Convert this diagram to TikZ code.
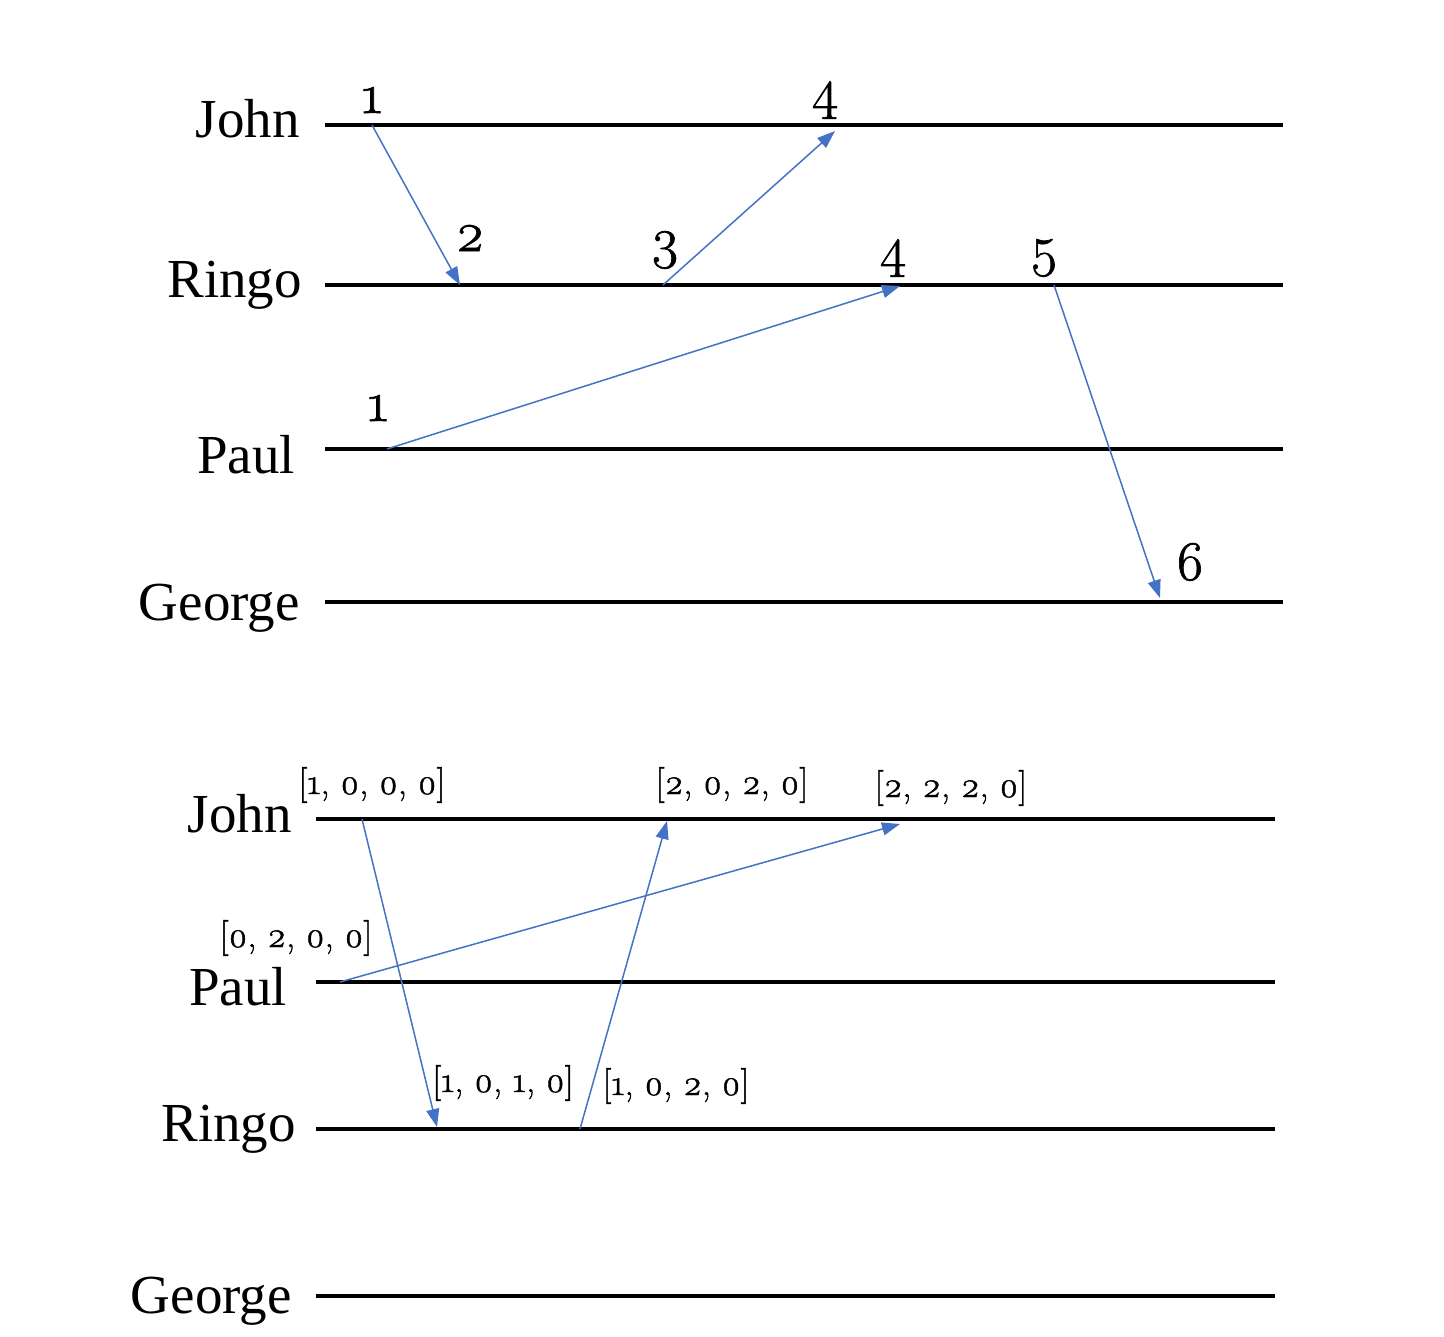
\documentclass[tikz,border=0pt]{standalone}
\usepackage{fontspec}
\setmainfont{Liberation Serif}
\newfontfamily\osfont{Latin Modern Roman}[Numbers=OldStyle,FakeBold=1.2]
\usetikzlibrary{arrows.meta}
\definecolor{msgblue}{RGB}{68,114,196}
\begin{document}
\begin{tikzpicture}[x=1pt,y=-1pt,
  lifeline/.style={line width=4.5pt,black},
  msg/.style={line width=1.5pt,msgblue,-{Triangle[length=18pt,width=13pt]}},
  pname/.style={anchor=base east,font=\fontsize{55}{60}\selectfont,inner sep=0pt},
  stamp/.style={font=\osfont\fontsize{56}{60}\selectfont,inner sep=0pt},
  vstamp/.style={font=\osfont\fontsize{36}{40}\selectfont,inner sep=0pt}]
\useasboundingbox (0,0) rectangle (1444,1337);
% ---------- top: Lamport clocks ----------
\node[pname] (tJ) at (300,138) {John};
\node[pname] (tR) at (302,298) {Ringo};
\node[pname] (tP) at (295,474) {Paul};
\node[pname] (tG) at (300,620) {George};
\coordinate (tJa) at (325,125); \coordinate (tJb) at (1283,125);
\coordinate (tRa) at (325,285); \coordinate (tRb) at (1283,285);
\coordinate (tPa) at (325,449); \coordinate (tPb) at (1283,449);
\coordinate (tGa) at (325,602); \coordinate (tGb) at (1283,602);
\draw[lifeline] (tJa) -- (tJb);
\draw[lifeline] (tRa) -- (tRb);
\draw[lifeline] (tPa) -- (tPb);
\draw[lifeline] (tGa) -- (tGb);
\coordinate (m1s) at (372,125); \coordinate (m1e) at (460,285);
\coordinate (m2s) at (663,285); \coordinate (m2e) at (835,131);
\coordinate (m3s) at (387,449); \coordinate (m3e) at (900,286);
\coordinate (m4s) at (1054,285); \coordinate (m4e) at (1160,598);
\draw[msg] (m1s) -- (m1e);
\draw[msg] (m2s) -- (m2e);
\draw[msg] (m3s) -- (m3e);
\draw[msg] (m4s) -- (m4e);
\node[stamp] (l1) at (372,100) {1};
\node[stamp] (l2) at (825,100) {4};
\node[stamp] (l3) at (470,238) {2};
\node[stamp] (l4) at (665,250) {3};
\node[stamp] (l5) at (893,258) {4};
\node[stamp] (l6) at (1044,258) {5};
\node[stamp] (l7) at (378,408) {1};
\node[stamp] (l8) at (1190,562) {6};
% ---------- bottom: vector clocks ----------
\node[pname] (bJ) at (292,832) {John};
\node[pname] (bP) at (287,1005) {Paul};
\node[pname] (bR) at (296,1141) {Ringo};
\node[pname] (bG) at (292,1313) {George};
\coordinate (bJa) at (316,819);  \coordinate (bJb) at (1275,819);
\coordinate (bPa) at (316,982);  \coordinate (bPb) at (1275,982);
\coordinate (bRa) at (316,1129); \coordinate (bRb) at (1275,1129);
\coordinate (bGa) at (316,1296); \coordinate (bGb) at (1275,1296);
\draw[lifeline] (bJa) -- (bJb);
\draw[lifeline] (bPa) -- (bPb);
\draw[lifeline] (bRa) -- (bRb);
\draw[lifeline] (bGa) -- (bGb);
\coordinate (v1s) at (362,819);  \coordinate (v1e) at (437,1127);
\coordinate (v2s) at (580,1129); \coordinate (v2e) at (667,821);
\coordinate (v3s) at (340,982);  \coordinate (v3e) at (900,824);
\draw[msg] (v1s) -- (v1e);
\draw[msg] (v2s) -- (v2e);
\draw[msg] (v3s) -- (v3e);
\node[vstamp] (s1) at (372,785) {[1, 0, 0, 0]};
\node[vstamp] (s2) at (732,785) {[2, 0, 2, 0]};
\node[vstamp] (s3) at (951,788) {[2, 2, 2, 0]};
\node[vstamp] (s4) at (296,938) {[0, 2, 0, 0]};
\node[vstamp] (s5) at (503,1083) {[1, 0, 1, 0]};
\node[vstamp] (s6) at (676,1086) {[1, 0, 2, 0]};
\end{tikzpicture}
\end{document}
